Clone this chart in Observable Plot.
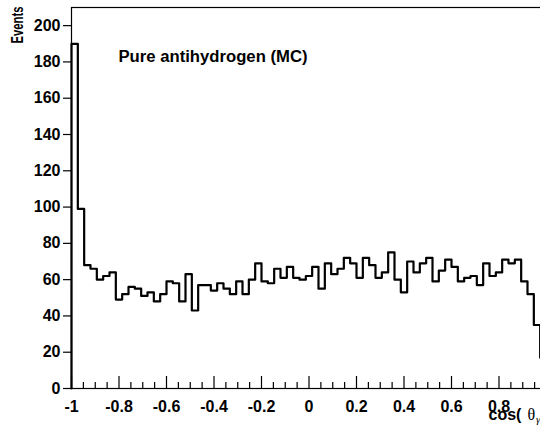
<!DOCTYPE html>
<html>
<head>
<meta charset="utf-8">
<script src="https://cdn.jsdelivr.net/npm/d3@7"></script>
<script src="https://cdn.jsdelivr.net/npm/@observablehq/plot@0.6"></script>
<style>
  html, body { margin: 0; padding: 0; background: #fff; }
  #chart { width: 540px; height: 436px; overflow: hidden; position: relative; }
</style>
</head>
<body>
<div id="chart"></div>
<script>
// Histogram range and per-bin event counts (75 equal bins over cos θγγ ∈ [-1, 1])
const xMin = -1;
const xMax = 1;
const counts = [
  190, 99, 68, 66, 60, 62, 64, 49, 52, 56,
  55, 51, 53, 48, 52, 59, 58, 48, 63, 43,
  57, 57, 54, 58, 55, 52, 59, 52, 60, 69,
  59, 58, 66, 61, 67, 61, 60, 62, 67, 55,
  69, 63, 66, 72, 69, 61, 72, 68, 61, 64,
  75, 60, 53, 70, 64, 69, 72, 59, 65, 71,
  67, 59, 61, 62, 57, 69, 62, 64, 71, 69,
  71, 59, 52, 35, 17
];

// Axis ticks and labels
const yTicks = [0, 20, 40, 60, 80, 100, 120, 140, 160, 180, 200];
const xMajorTicks = [-1, -0.8, -0.6, -0.4, -0.2, 0, 0.2, 0.4, 0.6, 0.8, 1];
const xTickLabels = ["-1", "-0.8", "-0.6", "-0.4", "-0.2", "0", "0.2", "0.4", "0.6", "0.8", "1"];
const xMinorStep = 0.05;
const yMax = 210;

const title = "Pure antihydrogen (MC)";
const yTitle = "Events";

// Outline of the histogram as a step line
const nBins = counts.length;
const binWidth = (xMax - xMin) / nBins;
const outline = [{x: xMin, y: 0}];
counts.forEach((c, i) => outline.push({x: xMin + i * binWidth, y: c}));
outline.push({x: xMax, y: counts[nBins - 1]});
outline.push({x: xMax, y: 0});

const xMinorTicks = d3.range(Math.round((xMax - xMin) / xMinorStep) + 1)
  .map(k => xMin + k * xMinorStep)
  .filter(v => !xMajorTicks.some(t => Math.abs(t - v) < 1e-9));

const pxPerUnit = (388 - 7) / yMax; // tick lengths below are given in px
const majorLen = 12 / pxPerUnit;
const minorLen = 6 / pxPerUnit;

const sans = "'Liberation Sans', Arial, Helvetica, sans-serif";
const serif = "'Liberation Serif', 'Times New Roman', serif";

const plot = Plot.plot({
  width: 560,
  height: 436,
  marginLeft: 71,
  marginRight: 14,
  marginTop: 7,
  marginBottom: 48,
  style: {
    fontFamily: sans,
    fontSize: "16px",
    fontWeight: "bold",
    maxWidth: "none",
    background: "#fff",
    color: "#000"
  },
  x: {domain: [xMin, xMax], axis: null},
  y: {domain: [0, yMax], axis: null},
  marks: [
    Plot.frame({stroke: "#000", strokeWidth: 1.2}),
    Plot.axisY({
      ticks: yTicks, tickSize: 8, tickPadding: 3,
      tickFormat: d => String(d), label: null, strokeWidth: 1.2
    }),
    Plot.axisX({
      ticks: xMajorTicks, tickSize: 0, tickPadding: 12,
      tickFormat: d => xTickLabels[xMajorTicks.indexOf(d)], label: null
    }),
    Plot.ruleX(xMajorTicks, {x: d => d, y1: 0, y2: majorLen, stroke: "#000", strokeWidth: 1.2}),
    Plot.ruleX(xMinorTicks, {x: d => d, y1: 0, y2: minorLen, stroke: "#000", strokeWidth: 1.2}),
    Plot.line(outline, {x: "x", y: "y", curve: "step-after", stroke: "#000", strokeWidth: 2.2}),
    Plot.text([title], {
      frameAnchor: "top-left", dx: 47, dy: 43, textAnchor: "start", lineAnchor: "top",
      fontSize: 16, fontWeight: "bold"
    }),
    Plot.text([yTitle], {
      frameAnchor: "top-left", dx: -54, dy: -1, rotate: -90, textAnchor: "end",
      lineAnchor: "middle", fontSize: 16, fontWeight: "bold"
    }),
    // x title: cos( θγγ )
    Plot.text(["cos("], {
      frameAnchor: "bottom-left", dx: 417, dy: 31, textAnchor: "start",
      lineAnchor: "bottom", fontSize: 16, fontWeight: "bold"
    }),
    Plot.text(["θ"], {
      frameAnchor: "bottom-left", dx: 456, dy: 31, textAnchor: "start",
      lineAnchor: "bottom", fontSize: 16, fontWeight: "normal", fontFamily: serif
    }),
    Plot.text(["γγ"], {
      frameAnchor: "bottom-left", dx: 464.5, dy: 34, textAnchor: "start",
      lineAnchor: "bottom", fontSize: 11, fontWeight: "normal", fontStyle: "italic", fontFamily: serif
    }),
    Plot.text([")"], {
      frameAnchor: "bottom-left", dx: 477, dy: 31, textAnchor: "start",
      lineAnchor: "bottom", fontSize: 16, fontWeight: "bold"
    })
  ]
});

// Fit the title strings to their set lengths
const fitted = {[title]: 189, [yTitle]: 37};
plot.querySelectorAll("text").forEach(t => {
  const len = fitted[t.textContent];
  if (len) {
    t.setAttribute("textLength", len);
    t.setAttribute("lengthAdjust", "spacingAndGlyphs");
  }
});

document.getElementById("chart").appendChild(plot);
</script>
</body>
</html>
